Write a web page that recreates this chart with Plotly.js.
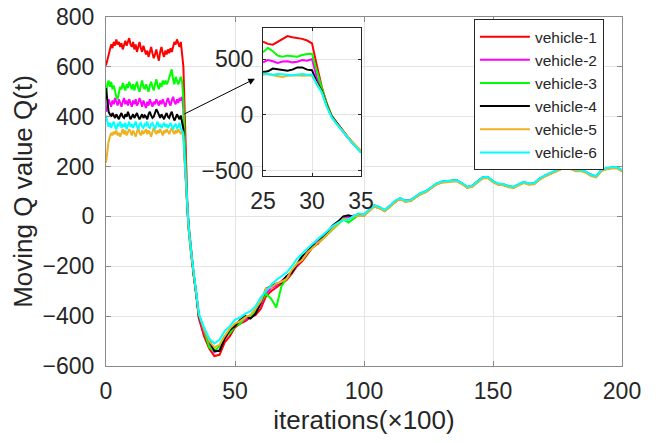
<!DOCTYPE html>
<html>
<head>
<meta charset="utf-8">
<script src="https://cdn.plot.ly/plotly-3.0.1.min.js"></script>
<style>html,body{margin:0;padding:0;background:#fff;}#chart{width:656px;height:443px;}</style>
</head>
<body>
<div id="chart"></div>
<script>
// ---------- DATA ----------
const seriesNames = ['vehicle-1','vehicle-2','vehicle-3','vehicle-4','vehicle-5','vehicle-6'];
const seriesColors = ['#FF0000','#FF00FF','#00FF00','#000000','#EDB120','#00FFFF'];

// iteration grid (x100): 0..30 step 0.5, 30.5..35 transition, 36..200 step 2
const xEarly = [];
for (let i = 0; i <= 60; i++) xEarly.push(i / 2);
const xDrop = [30.5, 31, 31.5, 32, 33, 34, 35];
const xLate = [];
for (let v = 36; v <= 200; v += 2) xLate.push(v);
const xMain = xEarly.concat(xDrop, xLate);

// vehicle-1 (red)
const v1Early = [605,625,640,665,690,675,700,685,710,690,700,680,695,670,690,705,685,700,715,690,680,700,670,690,660,680,700,675,660,685,670,650,665,640,660,680,655,635,650,670,645,625,660,680,655,640,665,650,670,655,675,660,680,700,690,710,695,680,700,660,600];
const v1Drop = [420,200,60,-30,-140,-235,-310];
const v1Late = [-410,-480,-530,-560,-555,-505,-480,-445,-430,-420,-405,-395,-370,-320,-300,-285,-270,-255,-230,-200,-180,-150,-125,-110,-90,-70,-50,-28,-8,-8,-2,6,4,24,44,36,22,40,58,73,60,63,77,90,101,114,131,138,139,141,145,131,118,121,141,154,158,139,129,129,119,118,127,138,129,133,151,162,173,181,189,205,194,185,184,179,164,161,184,193,194,197,183];
// vehicle-2 (magenta)
const v2Early = [420,445,470,455,440,465,450,475,460,445,470,455,440,460,475,450,465,445,470,455,440,465,450,470,445,455,475,460,440,465,450,435,460,445,470,455,440,460,450,470,455,445,465,450,470,455,440,460,475,455,445,465,480,460,450,470,455,475,465,480,430];
const v2Drop = [260,130,35,-40,-148,-238,-312];
const v2Late = [-405,-465,-515,-545,-535,-490,-465,-438,-428,-412,-398,-385,-352,-308,-288,-278,-258,-242,-222,-195,-168,-140,-118,-100,-82,-62,-42,-20,-2,-3,3,10,8,27,40,33,26,42,61,70,64,66,79,93,99,116,129,139,142,141,143,133,116,123,139,156,156,141,131,127,121,116,129,136,131,131,149,164,171,181,191,202,196,183,186,177,166,159,186,191,196,195,185];
// vehicle-3 (green)
const v3Early = [470,530,545,520,540,510,525,495,480,470,500,520,510,535,520,505,530,515,540,520,510,530,505,525,540,515,500,525,545,520,510,530,515,500,525,540,520,505,530,550,525,510,535,520,545,530,545,530,540,555,570,590,550,530,560,545,530,545,560,540,470];
const v3Drop = [300,150,45,-35,-145,-235,-310];
const v3Late = [-395,-455,-525,-540,-520,-480,-470,-440,-430,-405,-402,-378,-345,-310,-330,-365,-280,-250,-218,-190,-172,-145,-122,-108,-88,-68,-50,-30,-12,-25,-8,6,4,23,41,34,23,39,59,71,61,63,77,91,101,114,131,137,141,143,143,131,118,121,141,154,158,139,131,127,121,118,127,138,129,133,149,162,173,179,191,204,194,185,184,179,164,161,184,191,196,195,185];
// vehicle-4 (black)
const v4Early = [515,470,420,410,400,415,405,395,410,400,390,405,415,400,395,410,400,420,405,390,400,410,395,405,415,400,390,400,410,395,405,400,390,410,420,405,395,400,415,430,420,405,395,410,400,390,405,415,400,395,410,420,400,385,395,410,400,390,405,380,350];
const v4Drop = [230,120,30,-45,-150,-240,-315];
const v4Late = [-400,-455,-500,-540,-540,-490,-455,-440,-415,-400,-410,-390,-345,-290,-280,-270,-265,-240,-225,-190,-160,-145,-115,-110,-80,-60,-35,-20,0,5,-2,10,3,26,43,36,23,41,60,71,63,63,79,92,100,115,129,138,141,141,145,132,117,122,140,156,157,140,129,128,120,116,128,137,130,132,150,163,171,180,190,203,196,184,185,178,165,160,185,192,195,196,184];
// vehicle-5 (orange)
const v5Early = [215,265,300,320,335,325,340,330,345,325,335,320,340,350,330,345,325,335,350,340,325,345,335,320,340,355,335,325,345,330,340,350,330,345,335,320,340,355,340,330,345,335,350,340,325,345,335,350,340,330,345,355,340,330,345,335,350,340,330,345,320];
const v5Drop = [220,110,25,-50,-150,-238,-310];
const v5Late = [-395,-455,-500,-525,-515,-480,-450,-430,-420,-405,-395,-370,-340,-290,-285,-270,-262,-250,-215,-190,-175,-145,-125,-108,-90,-70,-48,-28,-8,-10,-3,5,2,22,40,32,21,37,57,69,59,61,75,89,97,112,127,135,137,139,141,129,114,119,137,152,154,137,127,125,117,114,125,134,127,129,147,160,169,177,187,200,192,181,182,175,162,157,182,189,192,193,181];
// vehicle-6 (cyan)
const v6Early = [405,385,360,375,355,370,380,360,350,370,365,380,355,370,360,375,350,365,380,360,370,355,365,380,360,350,370,375,360,355,370,365,380,360,355,370,375,360,350,365,380,360,370,355,365,375,360,370,355,365,375,360,350,365,370,355,360,375,350,345,330];
const v6Drop = [240,130,40,-35,-140,-230,-305];
const v6Late = [-390,-445,-490,-510,-495,-460,-440,-415,-405,-390,-380,-360,-325,-300,-275,-255,-240,-225,-200,-170,-150,-130,-110,-92,-75,-55,-38,-25,-15,-12,2,12,8,28,45,38,27,43,63,74,64,66,80,94,102,117,132,140,142,144,146,134,119,124,142,157,159,142,132,130,122,119,130,139,132,134,152,165,174,182,192,205,197,186,187,180,167,162,187,194,197,198,186];

// inset (zoomed, smoothed) data: iterations 25..35
const xInset = [25,25.5,26,26.5,27,27.5,28,28.5,29,29.5,30,30.5,31,31.5,32,32.5,33,33.5,34,34.5,35];
const i1 = [655,635,628,655,685,705,695,690,680,665,640,440,250,105,-5,-65,-125,-180,-232,-278,-325];
const i2 = [470,490,480,465,478,480,470,475,490,485,500,330,225,92,-12,-72,-132,-188,-238,-285,-335];
const i3 = [560,600,570,530,520,530,525,520,535,545,545,380,240,100,-8,-68,-128,-183,-234,-280,-328];
const i4 = [385,390,415,410,400,395,405,425,425,405,400,290,215,88,-12,-70,-130,-185,-236,-282,-330];
const i5 = [360,365,355,350,340,350,355,355,350,355,350,280,205,80,-18,-75,-128,-180,-230,-275,-320];
const i6 = [370,365,360,365,365,360,355,360,365,360,360,270,200,75,-22,-80,-135,-192,-240,-288,-335];

const xTicks = [0,50,100,150,200];
const yTicks = [-600,-400,-200,0,200,400,600,800];
const xInsetTicks = [25,30,35];
const yInsetTicks = [-500,0,500];

// ---------- BUILD ----------
const mainY = [
  v1Early.concat(v1Drop, v1Late),
  v2Early.concat(v2Drop, v2Late),
  v3Early.concat(v3Drop, v3Late),
  v4Early.concat(v4Drop, v4Late),
  v5Early.concat(v5Drop, v5Late),
  v6Early.concat(v6Drop, v6Late)
];
const insetY = [i1,i2,i3,i4,i5,i6];

const FONT = 'Liberation Sans, Arial, Helvetica, sans-serif';
const traces = [];
mainY.forEach((ys, k) => {
  traces.push({
    x: xMain, y: ys, type: 'scatter', mode: 'lines', name: seriesNames[k],
    line: {color: seriesColors[k], width: 2}, xaxis: 'x', yaxis: 'y'
  });
});
insetY.forEach((ys, k) => {
  traces.push({
    x: xInset, y: ys, type: 'scatter', mode: 'lines', showlegend: false,
    line: {color: seriesColors[k], width: 2}, xaxis: 'x2', yaxis: 'y2', hoverinfo: 'skip'
  });
});

const axisCommon = {
  showline: true, mirror: 'ticks', linecolor: '#8a8a8a', linewidth: 1,
  ticks: 'inside', ticklen: 5, tickcolor: '#8a8a8a',
  showgrid: true, gridcolor: '#e4e4e4', gridwidth: 1, zeroline: false,
  tickfont: {family: FONT, size: 23, color: '#262626'}
};

const layout = {
  width: 656, height: 443,
  margin: {l: 106, r: 34, t: 17, b: 77},
  paper_bgcolor: '#ffffff', plot_bgcolor: '#ffffff',
  font: {family: FONT, color: '#262626'},
  showlegend: true,
  legend: {
    x: 0.713, y: 0.994, xanchor: 'left', yanchor: 'top',
    bgcolor: '#ffffff', bordercolor: '#262626', borderwidth: 1,
    font: {family: FONT, size: 15.5, color: '#262626'},
    itemwidth: 50, tracegroupgap: 0,
    entrywidth: 92, entrywidthmode: 'pixels'
  },
  xaxis: Object.assign({}, axisCommon, {
    range: [0, 200], tickvals: xTicks, domain: [0, 1], anchor: 'y',
    ticklabelstandoff: 4,
    title: {text: 'iterations(×100)', font: {family: FONT, size: 26, color: '#262626'}, standoff: 8}
  }),
  yaxis: Object.assign({}, axisCommon, {
    range: [-600, 800], tickvals: yTicks, domain: [0, 1], anchor: 'x',
    ticklabelstandoff: 6,
    title: {text: 'Moving Q value Q(t)', font: {family: FONT, size: 26, color: '#262626'}, standoff: 2}
  }),
  xaxis2: Object.assign({}, axisCommon, {
    range: [25, 35], tickvals: xInsetTicks, domain: [0.3043, 0.4942], anchor: 'y2',
    linecolor: '#262626', tickcolor: '#262626', ticklen: 3, ticklabelstandoff: 4
  }),
  yaxis2: Object.assign({}, axisCommon, {
    range: [-545, 777], tickvals: yInsetTicks, domain: [0.5444, 0.9685], anchor: 'x2',
    linecolor: '#262626', tickcolor: '#262626', ticklen: 3, ticklabelstandoff: 4
  }),
  shapes: [{
    type: 'rect', xref: 'x2 domain', yref: 'y2 domain', x0: 0, x1: 1, y0: 0, y1: 1,
    fillcolor: '#ffffff', line: {width: 0}, layer: 'below'
  }],
  annotations: [{
    xref: 'x', yref: 'y', axref: 'x', ayref: 'y',
    x: 57.7, y: 552, ax: 29.8, ay: 408,
    showarrow: true, arrowhead: 2, arrowsize: 1.3, arrowwidth: 1, arrowcolor: '#000000', text: ''
  }]
};

Plotly.newPlot('chart', traces, layout, {displayModeBar: false, staticPlot: true});
</script>
</body>
</html>
